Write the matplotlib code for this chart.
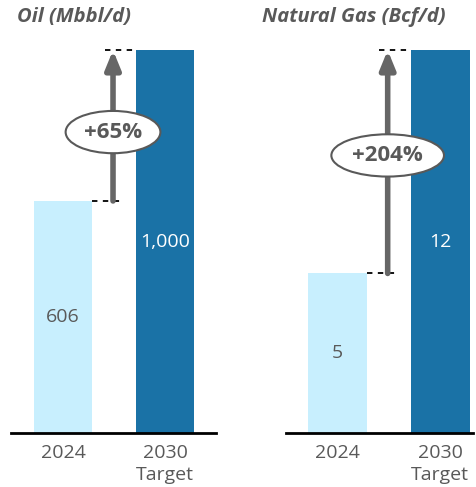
import matplotlib.pyplot as plt

plt.rcParams['font.family'] = ['Open Sans', 'DejaVu Sans']

# bar data
categories = ['2024', '2030\nTarget']
oil_values = [606, 1000]
oil_labels = ['606', '1,000']
oil_change = '+65%'
gas_values = [5, 12]
gas_labels = ['5', '12']
gas_change = '+204%'

light = '#C8EFFE'
dark = '#1A72A6'
grey = '#595959'

fig = plt.figure(figsize=(4.77, 4.87), dpi=100)
ax1 = fig.add_axes([0.023, 0.111, 0.430, 0.786])
ax2 = fig.add_axes([0.600, 0.111, 0.392, 0.786])


def panel(ax, values, labels, change, xlim, ell_y):
    ax.bar([0, 1], values, width=0.57, color=[light, dark])
    ax.set_xlim(*xlim)
    ax.set_ylim(0, values[1])
    for s in ['top', 'right', 'left']:
        ax.spines[s].set_visible(False)
    ax.spines['bottom'].set_linewidth(2)
    ax.set_yticks([])
    ax.set_xticks([0, 1])
    ax.set_xticklabels(categories, fontsize=14, color=grey, linespacing=1.25)
    ax.tick_params(axis='x', length=0, pad=8)

    # value labels
    ax.text(0, values[0] / 2, labels[0], ha='center', va='center',
            fontsize=14, color=grey)
    ax.text(1, values[1] * 0.5, labels[1], ha='center', va='center',
            fontsize=14, color='white')

    # dashed guides at old and new levels
    ax.plot([0.285, 0.59], [values[0]] * 2, ls=(0, (3, 3)), color='black',
            lw=1.3, clip_on=False)
    ax.plot([0.41, 0.715], [values[1]] * 2, ls=(0, (3, 3)), color='black',
            lw=1.3, clip_on=False)

    # growth arrow
    ax.annotate('', xy=(0.49, values[1]), xytext=(0.49, values[0]),
                arrowprops=dict(arrowstyle='-|>,head_width=0.45,head_length=1.1',
                                color='#666666', lw=4, shrinkA=0, shrinkB=0),
                annotation_clip=False)
    ax.text(0.49, ell_y, change, ha='center', va='center', fontsize=16,
            fontweight='bold', color=grey,
            bbox=dict(boxstyle='ellipse,pad=0.2', fc='white', ec=grey, lw=1.5))


panel(ax1, oil_values, oil_labels, oil_change, (-0.51, 1.5), 786)
panel(ax2, gas_values, gas_labels, gas_change, (-0.495, 1.32), 8.7)

# panel titles
fig.text(0.036, 0.965, 'Oil (Mbbl/d)', ha='left', va='center', fontsize=14.5,
         fontweight='bold', fontstyle='italic', color=grey)
fig.text(0.549, 0.965, 'Natural Gas (Bcf/d)', ha='left', va='center',
         fontsize=14.5, fontweight='bold', fontstyle='italic', color=grey)

fig.savefig('out.png', dpi=100)
